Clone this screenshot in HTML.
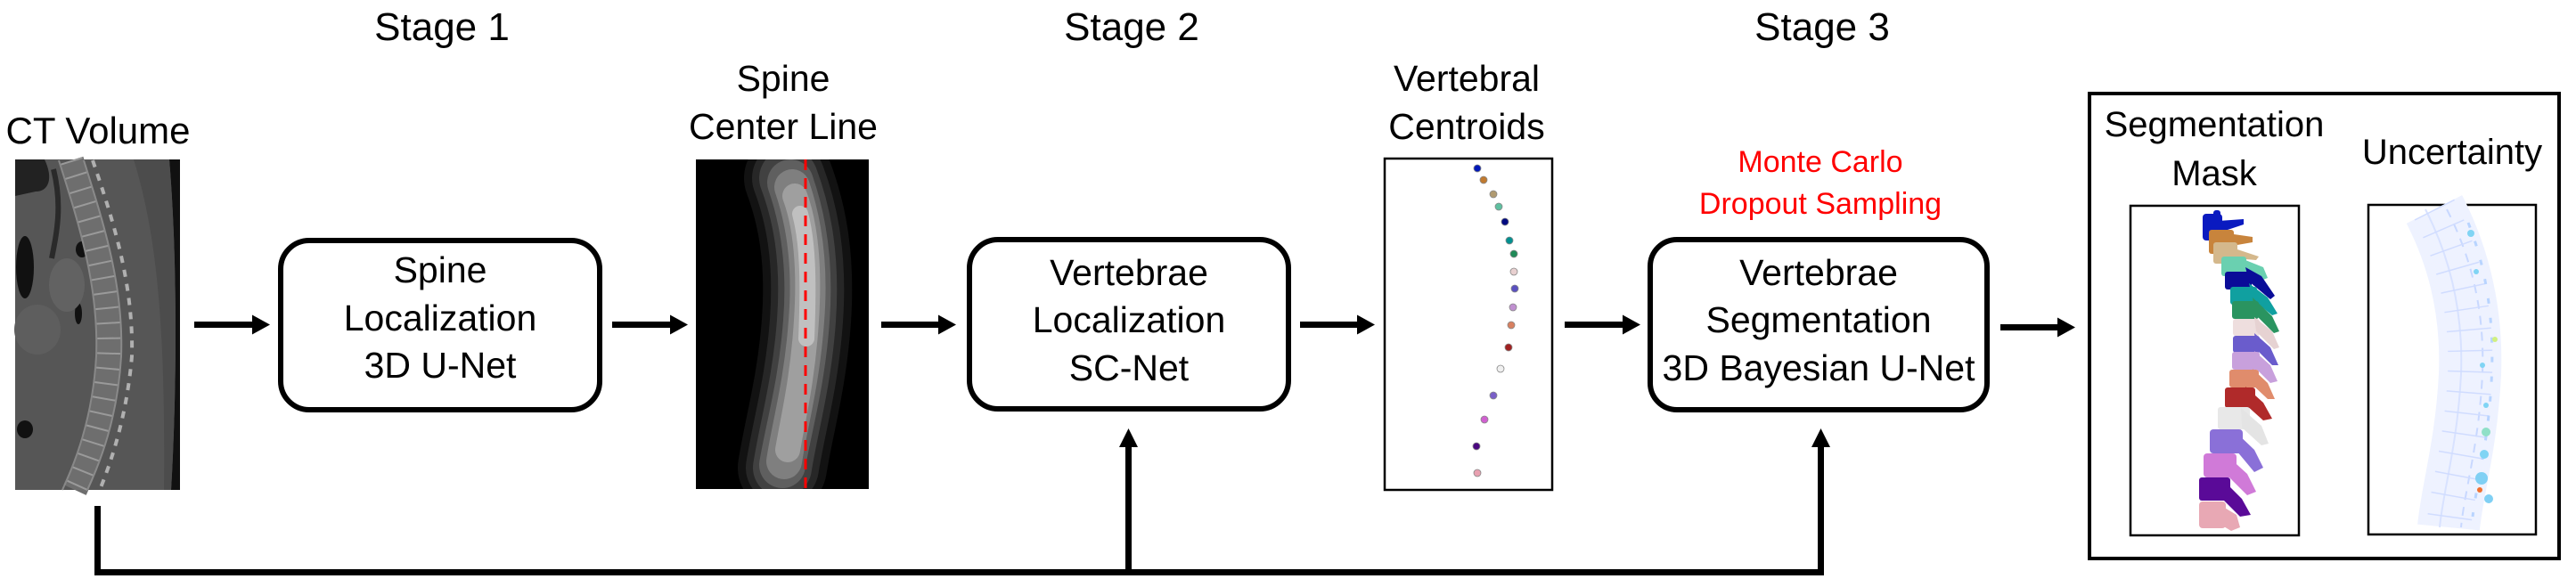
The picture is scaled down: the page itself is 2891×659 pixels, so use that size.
<!DOCTYPE html>
<html><head><meta charset="utf-8"><style>
html,body{margin:0;padding:0;background:#fff;}
svg{display:block;}
text{font-family:"Liberation Sans",Arial,sans-serif;}
</style></head><body>
<svg width="2891" height="659" viewBox="0 0 2891 659" xmlns="http://www.w3.org/2000/svg">
<defs>
<g id="ah"><polygon points="0,-11 20,0 0,11" fill="#000"/></g>
<clipPath id="cl1"><rect x="781" y="179" width="194" height="370"/></clipPath>
</defs>
<rect width="2891" height="659" fill="#fff"/>

<text x="496" y="45" font-size="44" text-anchor="middle">Stage 1</text>
<text x="1270" y="45" font-size="44" text-anchor="middle">Stage 2</text>
<text x="2045" y="45" font-size="44" text-anchor="middle">Stage 3</text>

<!-- CT Volume -->
<text x="110" y="161" font-size="42" text-anchor="middle">CT Volume</text>
<g>
<rect x="17" y="179" width="185" height="371" fill="#565656"/>
<path d="M190,179 L202,179 L202,550 L192,550 C198,450 200,300 190,179Z" fill="#111"/>
<path d="M150,179 C175,260 186,360 184,550 L192,550 C198,450 200,300 190,179Z" fill="#4c4c4c"/>
<path d="M17,179 L50,179 C60,200 55,215 40,215 L17,220Z" fill="#222"/>
<ellipse cx="28" cy="300" rx="10" ry="35" fill="#111"/>
<ellipse cx="28" cy="482" rx="9" ry="10" fill="#111"/>
<ellipse cx="92" cy="280" rx="7" ry="9" fill="#111"/>
<ellipse cx="88" cy="352" rx="4" ry="12" fill="#111"/>
<path d="M60,190 C70,230 64,260 58,290" stroke="#2a2a2a" stroke-width="6" fill="none"/>
<ellipse cx="75" cy="320" rx="20" ry="30" fill="#626262"/>
<ellipse cx="42" cy="370" rx="26" ry="28" fill="#5e5e5e"/>
<path d="M80,180 C102,250 125,320 122,400 C118,470 98,520 84,550" stroke="#6e6e6e" stroke-width="28" fill="none"/>
<path d="M80,180 C102,250 125,320 122,400 C118,470 98,520 84,550" stroke="#9a9a9a" stroke-width="26" stroke-dasharray="2 15" fill="none"/>
<path d="M66,180 C88,250 111,320 108,400 C104,470 84,520 70,550" stroke="#888" stroke-width="2" fill="none"/>
<path d="M94,180 C116,250 139,320 136,400 C132,470 112,520 98,550" stroke="#8a8a8a" stroke-width="2" fill="none"/>
<path d="M104,180 C128,250 150,320 148,400 C142,470 124,520 112,550" stroke="#b0b0b0" stroke-width="4" stroke-dasharray="8 8" fill="none"/>
</g>

<g fill="#000">
<rect x="218" y="361" width="68" height="7"/><use href="#ah" x="283" y="364.5"/>
<rect x="687" y="361" width="68" height="7"/><use href="#ah" x="752" y="364.5"/>
<rect x="989" y="361" width="68" height="7"/><use href="#ah" x="1053" y="364.5"/>
<rect x="1459" y="361" width="68" height="7"/><use href="#ah" x="1523" y="364.5"/>
<rect x="1756" y="361" width="68" height="7"/><use href="#ah" x="1821" y="364.5"/>
<rect x="2245" y="364" width="68" height="7"/><use href="#ah" x="2309" y="367.5"/>
</g>

<rect x="315" y="270" width="358" height="190" rx="32" fill="#fff" stroke="#000" stroke-width="6"/>
<text x="494" y="317" font-size="41" text-anchor="middle">Spine</text>
<text x="494" y="371" font-size="41" text-anchor="middle">Localization</text>
<text x="494" y="424" font-size="41" text-anchor="middle">3D U-Net</text>

<!-- Spine center line -->
<text x="879" y="102" font-size="41" text-anchor="middle">Spine</text>
<text x="879" y="156" font-size="41" text-anchor="middle">Center Line</text>
<rect x="781" y="179" width="194" height="370" fill="#000"/>
<g clip-path="url(#cl1)" fill="none" stroke-linecap="round">
<path d="M885,200 C900,240 910,290 905,360 C900,430 885,480 878,525" stroke="#fff" stroke-opacity="0.07" stroke-width="100"/>
<path d="M885,200 C900,240 910,290 905,360 C900,430 885,480 878,525" stroke="#fff" stroke-opacity="0.09" stroke-width="82"/>
<path d="M885,200 C900,240 910,290 905,360 C900,430 885,480 878,525" stroke="#fff" stroke-opacity="0.12" stroke-width="66"/>
<path d="M887,205 C901,245 910,295 905,360 C900,430 885,480 878,522" stroke="#fff" stroke-opacity="0.16" stroke-width="52"/>
<path d="M889,210 C902,248 910,298 905,360 C900,430 886,478 880,518" stroke="#fff" stroke-opacity="0.2" stroke-width="40"/>
<path d="M892,220 C904,252 909,300 905,360 C901,425 890,470 884,505" stroke="#fff" stroke-opacity="0.25" stroke-width="28"/>
<path d="M898,240 C906,270 908,310 905,380" stroke="#fff" stroke-opacity="0.35" stroke-width="18"/>
</g>
<line x1="904" y1="179" x2="904" y2="549" stroke="#f00" stroke-width="3" stroke-dasharray="12 9"/>

<rect x="1088" y="269" width="358" height="190" rx="32" fill="#fff" stroke="#000" stroke-width="6"/>
<text x="1267" y="320" font-size="41" text-anchor="middle">Vertebrae</text>
<text x="1267" y="373" font-size="41" text-anchor="middle">Localization</text>
<text x="1267" y="427" font-size="41" text-anchor="middle">SC-Net</text>

<text x="1646" y="102" font-size="41" text-anchor="middle">Vertebral</text>
<text x="1646" y="156" font-size="41" text-anchor="middle">Centroids</text>
<rect x="1554" y="178" width="188" height="372" fill="#fff" stroke="#000" stroke-width="2.5"/>
<g stroke="#888" stroke-width="0.8">
<circle cx="1658" cy="189" r="4" fill="#0018b8"/>
<circle cx="1665" cy="202" r="4" fill="#c07a30"/>
<circle cx="1676" cy="218" r="4" fill="#b09a70"/>
<circle cx="1682" cy="232" r="4" fill="#5ec0a0"/>
<circle cx="1689" cy="249" r="4" fill="#000a80"/>
<circle cx="1694" cy="270" r="4" fill="#009090"/>
<circle cx="1699" cy="285" r="4" fill="#208a58"/>
<circle cx="1699" cy="305" r="4" fill="#e8d0d0"/>
<circle cx="1700" cy="324" r="4" fill="#5a50c0"/>
<circle cx="1698" cy="345" r="4" fill="#c090d0"/>
<circle cx="1696" cy="365" r="4" fill="#d88060"/>
<circle cx="1693" cy="390" r="4" fill="#a02020"/>
<circle cx="1684" cy="414" r="4" fill="#f0f0f0"/>
<circle cx="1676" cy="444" r="4" fill="#7a60c8"/>
<circle cx="1666" cy="471" r="4" fill="#d060d0"/>
<circle cx="1657" cy="501" r="4" fill="#4a0880"/>
<circle cx="1658" cy="531" r="4" fill="#e8a0b0"/>
</g>

<text x="2043" y="193" font-size="34" fill="#f00" text-anchor="middle">Monte Carlo</text>
<text x="2043" y="240" font-size="34" fill="#f00" text-anchor="middle">Dropout Sampling</text>

<rect x="1852" y="269" width="378" height="191" rx="30" fill="#fff" stroke="#000" stroke-width="6"/>
<text x="2041" y="320" font-size="41" text-anchor="middle">Vertebrae</text>
<text x="2041" y="373" font-size="41" text-anchor="middle">Segmentation</text>
<text x="2041" y="427" font-size="41" text-anchor="middle">3D Bayesian U-Net</text>

<g fill="#000">
<rect x="106" y="568" width="7" height="78"/>
<rect x="106" y="639" width="1941" height="7"/>
<rect x="1263" y="495" width="7" height="151"/>
<polygon points="1266.5,481 1256,502 1277,502"/>
<rect x="2040" y="495" width="7" height="151"/>
<polygon points="2043.5,481 2033,502 2054,502"/>
</g>

<rect x="2345" y="105" width="527" height="522" fill="#fff" stroke="#000" stroke-width="4"/>
<text x="2485" y="153" font-size="40" text-anchor="middle">Segmentation</text>
<text x="2485" y="208" font-size="40" text-anchor="middle">Mask</text>
<text x="2752" y="184" font-size="40" text-anchor="middle">Uncertainty</text>

<rect x="2391" y="231" width="189" height="370" fill="#fff" stroke="#000" stroke-width="2.5"/>
<g>
<rect x="2472" y="240" width="22" height="30" rx="4" fill="#0a1ac0"/><polygon points="2490,248 2518,246 2518,252 2494,260" fill="#0a1ac0"/><rect x="2484" y="236" width="8" height="10" rx="3" fill="#0a1ac0"/>
<rect x="2479" y="258" width="28" height="27" rx="3" fill="#c8843c"/><polygon points="2500,262 2528,266 2528,272 2505,276" fill="#c8843c"/>
<rect x="2484" y="272" width="27" height="24" rx="3" fill="#d4b88c"/><polygon points="2505,278 2535,288 2532,292 2508,290" fill="#d4b88c"/>
<rect x="2493" y="288" width="28" height="22" rx="3" fill="#6ad0b0"/><polygon points="2515,290 2540,300 2545,312 2540,314 2516,304" fill="#6ad0b0"/>
<rect x="2497" y="305" width="30" height="20" rx="3" fill="#0a0c98"/><polygon points="2520,300 2538,310 2553,332 2548,336 2524,316" fill="#0a0c98"/>
<rect x="2503" y="322" width="30" height="20" rx="3" fill="#10a0a0"/><polygon points="2524,318 2545,334 2556,352 2550,354 2528,336" fill="#10a0a0"/>
<rect x="2505" y="338" width="30" height="20" rx="3" fill="#2a9460"/><polygon points="2528,334 2550,355 2558,372 2552,374 2530,352" fill="#2a9460"/>
<rect x="2506" y="358" width="30" height="19" rx="3" fill="#eedede"/><polygon points="2530,356 2550,372 2558,390 2552,392 2532,372" fill="#e6d2d2"/>
<rect x="2506" y="377" width="30" height="19" rx="3" fill="#6a5ccc"/><polygon points="2530,374 2548,390 2557,410 2550,410 2532,392" fill="#6a5ccc"/>
<rect x="2505" y="395" width="31" height="20" rx="3" fill="#c8a0dc"/><polygon points="2530,394 2548,410 2556,428 2548,430 2530,412" fill="#c8a0dc"/>
<rect x="2502" y="415" width="33" height="20" rx="3" fill="#e08c6c"/><polygon points="2528,414 2545,430 2553,448 2545,448 2528,432" fill="#e08c6c"/>
<rect x="2497" y="435" width="34" height="23" rx="3" fill="#b02a2a"/><polygon points="2520,434 2540,452 2550,470 2540,472 2520,454" fill="#b02a2a"/>
<rect x="2489" y="457" width="36" height="25" rx="3" fill="#e8e8e8"/><polygon points="2515,458 2538,478 2546,498 2538,500 2516,480" fill="#e4e4e4"/>
<rect x="2480" y="482" width="37" height="27" rx="4" fill="#8a70d8"/><polygon points="2508,484 2530,505 2540,525 2530,530 2510,506" fill="#8a70d8"/>
<rect x="2473" y="509" width="37" height="27" rx="4" fill="#d07ad8"/><polygon points="2500,512 2522,532 2532,552 2522,556 2500,534" fill="#d07ad8"/>
<rect x="2468" y="536" width="35" height="26" rx="3" fill="#5a0a98"/><polygon points="2494,538 2516,560 2526,578 2514,580 2494,560" fill="#5a0a98"/>
<rect x="2468" y="563" width="30" height="30" rx="4" fill="#e8a8b4"/><polygon points="2490,566 2510,578 2514,592 2504,596 2494,590" fill="#e8a8b4"/>
</g>

<rect x="2658" y="230" width="188" height="370" fill="#fff" stroke="#000" stroke-width="2.5"/>
<g fill="none">
<path d="M2732,235 C2755,280 2775,340 2772,420 C2768,500 2752,550 2748,592" stroke="#eef2ff" stroke-width="70"/>
<path d="M2722,235 C2745,280 2765,340 2762,420 C2758,500 2742,550 2738,592" stroke="#d8e2ff" stroke-width="2"/>
<path d="M2746,235 C2769,280 2789,340 2786,420 C2782,500 2766,550 2762,592" stroke="#c8d8ff" stroke-width="2" stroke-dasharray="10 8"/>
<path d="M2732,235 C2755,280 2775,340 2772,420 C2768,500 2752,550 2748,592" stroke="#d0dcff" stroke-width="50" stroke-dasharray="1.5 22"/>
<path d="M2770,250 C2790,300 2800,360 2796,430 C2792,500 2780,540 2775,580" stroke="#b8d4ff" stroke-width="3" stroke-dasharray="6 16"/>
</g>
<g>
<circle cx="2773" cy="262" r="4" fill="#80d4f4"/>
<circle cx="2779" cy="305" r="3" fill="#80d4f4"/>
<circle cx="2800" cy="381" r="3" fill="#d0f080"/>
<circle cx="2786" cy="410" r="3" fill="#80d4f4"/>
<circle cx="2790" cy="455" r="3" fill="#80d4f4"/>
<circle cx="2790" cy="485" r="5" fill="#90e0c8"/>
<circle cx="2788" cy="510" r="5" fill="#80d4f4"/>
<circle cx="2785" cy="537" r="7" fill="#80d0f4"/>
<circle cx="2783" cy="550" r="3" fill="#f07030"/>
<circle cx="2793" cy="560" r="5" fill="#80d0f4"/>
</g>
</svg>
</body></html>
